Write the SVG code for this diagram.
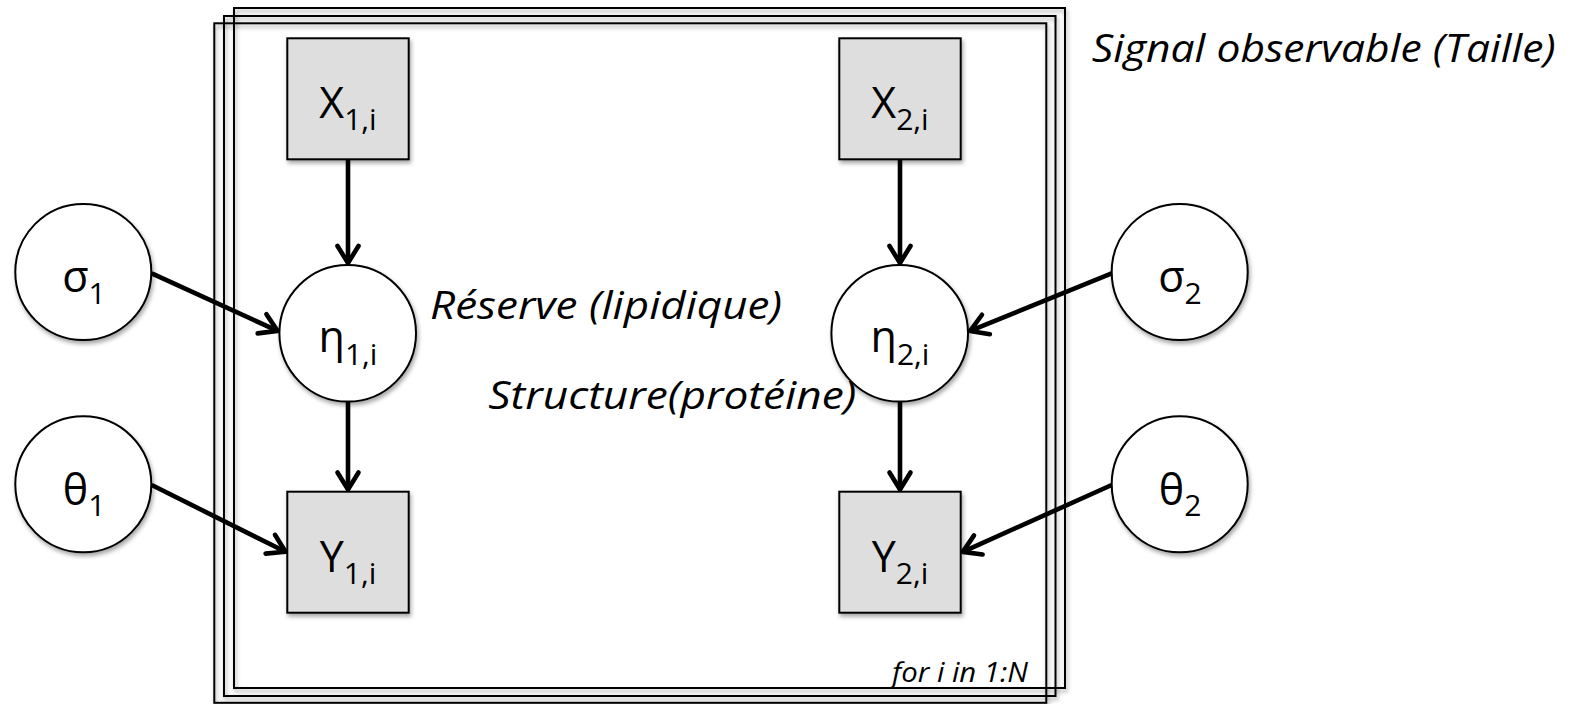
<svg xmlns="http://www.w3.org/2000/svg" width="1584" height="704" viewBox="0 0 1584 704">
  <defs>
    <filter id="sh" x="-20%" y="-20%" width="140%" height="140%">
      <feDropShadow dx="1.5" dy="3" stdDeviation="2" flood-color="#000" flood-opacity="0.35"/>
    </filter>
    <marker id="arr" markerUnits="userSpaceOnUse" viewBox="-22 -14 26 28" refX="0" refY="0" markerWidth="26" markerHeight="28" orient="auto" overflow="visible">
      <path d="M-17,-10.5 L0,0 L-17,10.5" fill="none" stroke="#000" stroke-width="4.6" stroke-linecap="round" stroke-linejoin="round"/>
    </marker>
  </defs>
  <style>
    .plate { fill: none; stroke: #000; stroke-width: 2; filter: url(#sh); }
    .box { fill: #dedede; stroke: #000; stroke-width: 2; filter: url(#sh); }
    .circ { fill: #fff; stroke: #000; stroke-width: 2; filter: url(#sh); }
    .lbl { font-family: "Open Sans", "Liberation Sans", sans-serif; font-size: 43px; fill: #000; text-anchor: middle; }
    .sub { font-size: 30px; }
    .it { font-family: "Open Sans", "Liberation Sans", sans-serif; font-style: italic; font-size: 39px; fill: #000; }
    .edge { fill: none; stroke: #000; stroke-width: 4.6; marker-end: url(#arr); }
  </style>
  <rect width="1584" height="704" fill="#fff"/>

  <g id="plate">
    <rect class="plate" x="234" y="8" width="831" height="680"/>
    <rect class="plate" x="224" y="16" width="831.5" height="680"/>
    <rect class="plate" x="214.3" y="23.3" width="832" height="679.5"/>
    <text class="it" x="1028" y="681.7" text-anchor="end" style="font-size:27px" textLength="136" lengthAdjust="spacingAndGlyphs">for i in 1:N</text>
  </g>

  <g id="X1">
    <rect class="box" x="287.3" y="38.3" width="121.4" height="121"/>
    <text class="lbl" x="348" y="118.3">X<tspan class="sub" dy="12">1,i</tspan></text>
  </g>
  <g id="X2">
    <rect class="box" x="839.3" y="38.3" width="121.4" height="121"/>
    <text class="lbl" x="900" y="118.3">X<tspan class="sub" dy="12">2,i</tspan></text>
  </g>
  <g id="eta1">
    <circle class="circ" cx="347.7" cy="333.3" r="68.3"/>
    <text class="lbl" x="348" y="352">η<tspan class="sub" dy="13">1,i</tspan></text>
  </g>
  <g id="eta2">
    <circle class="circ" cx="899.7" cy="333.3" r="68.3"/>
    <text class="lbl" x="900" y="352">η<tspan class="sub" dy="13">2,i</tspan></text>
  </g>
  <g id="Y1">
    <rect class="box" x="287.3" y="491.7" width="121.4" height="121"/>
    <text class="lbl" x="348" y="571.7">Y<tspan class="sub" dy="12">1,i</tspan></text>
  </g>
  <g id="Y2">
    <rect class="box" x="839.3" y="491.7" width="121.4" height="121"/>
    <text class="lbl" x="900" y="571.7">Y<tspan class="sub" dy="12">2,i</tspan></text>
  </g>
  <g id="sigma1">
    <circle class="circ" cx="83.3" cy="272" r="68"/>
    <text class="lbl" x="84" y="291.7">σ<tspan class="sub" dy="12">1</tspan></text>
  </g>
  <g id="theta1">
    <circle class="circ" cx="83.3" cy="484.3" r="68"/>
    <text class="lbl" x="84" y="505">θ<tspan class="sub" dy="11">1</tspan></text>
  </g>
  <g id="sigma2">
    <circle class="circ" cx="1179.7" cy="272" r="68"/>
    <text class="lbl" x="1180" y="291.7">σ<tspan class="sub" dy="12">2</tspan></text>
  </g>
  <g id="theta2">
    <circle class="circ" cx="1179.7" cy="484.3" r="68"/>
    <text class="lbl" x="1180" y="505">θ<tspan class="sub" dy="11">2</tspan></text>
  </g>

  <g id="annotations">
    <text class="it" x="430" y="319" textLength="352" lengthAdjust="spacingAndGlyphs">Réserve (lipidique)</text>
    <text class="it" x="488.3" y="409" textLength="368" lengthAdjust="spacingAndGlyphs">Structure(protéine)</text>
    <text class="it" x="1091.7" y="62" textLength="464" lengthAdjust="spacingAndGlyphs">Signal observable (Taille)</text>
  </g>

  <g id="connectors">
    <line class="edge" x1="348" y1="160" x2="348" y2="263"/>
    <line class="edge" x1="348" y1="402" x2="348" y2="489.5"/>
    <line class="edge" x1="900" y1="160" x2="900" y2="263"/>
    <line class="edge" x1="900" y1="402" x2="900" y2="489.5"/>
    <line class="edge" x1="151.7" y1="273.3" x2="277.5" y2="330.9"/>
    <line class="edge" x1="151.7" y1="485" x2="285.5" y2="551.8"/>
    <line class="edge" x1="1111.7" y1="273.3" x2="970.2" y2="330.9"/>
    <line class="edge" x1="1111.7" y1="485" x2="962.8" y2="551.9"/>
  </g>
</svg>
